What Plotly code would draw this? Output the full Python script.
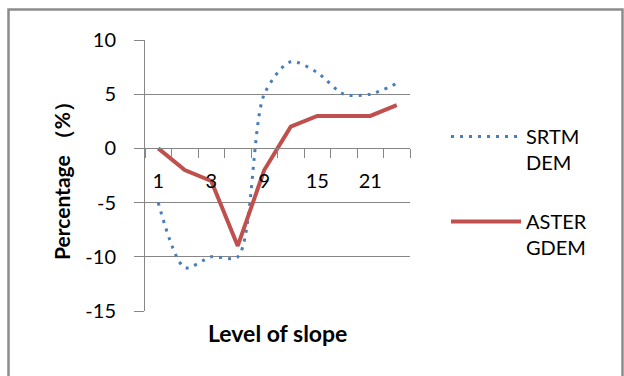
import plotly.graph_objects as go

slope_levels = ["1", "2", "3", "6", "9", "12", "15", "18", "21", "24"]
tick_labels = ["1", "", "3", "", "9", "", "15", "", "21", ""]
srtm_dem = [-5, -11, -10, -10, 5, 8, 7, 5, 5, 6]
aster_gdem = [0, -2, -3, -9, -2, 2, 3, 3, 3, 4]
y_ticks = [-15, -10, -5, 0, 5, 10]
y_tick_labels = ["-15", "-10", "-5", "0", "5", "10"]

FONT = "Lato, Carlito, Calibri, 'Noto Sans', sans-serif"
GRID = "#868686"

fig = go.Figure()
fig.add_trace(go.Scatter(
    x=slope_levels, y=srtm_dem, mode="lines", name="SRTM<br>DEM", legendgroup="a",
    line=dict(color="#4A7EBB", width=3, dash="3px,6px", shape="spline", smoothing=0.8),
))
fig.add_trace(go.Scatter(
    x=slope_levels, y=aster_gdem, mode="lines", name="ASTER<br>GDEM", legendgroup="b",
    line=dict(color="#C0504D", width=4),
))

L, R, T, B = 145, 214, 40, 65
W, H = 624, 376
pw, ph = W - L - R, H - T - B

fig.update_layout(
    width=W, height=H,
    margin=dict(l=L, r=R, t=T, b=B),
    paper_bgcolor="white", plot_bgcolor="white",
    font=dict(family=FONT, size=19, color="#000000"),
    showlegend=True,
    legend=dict(x=(446 - L) / pw, y=(311 - 117) / ph, xanchor="left", yanchor="top",
                font=dict(size=20), valign="top", itemwidth=70, tracegroupgap=30,
                bgcolor="rgba(0,0,0,0)"),
    xaxis=dict(
        type="category", range=[-0.5, 9.5], tickvals=slope_levels, ticktext=tick_labels,
        tickangle=0, tickson="boundaries", ticks="outside", ticklen=9, tickcolor=GRID,
        showline=True, linecolor=GRID, linewidth=1, showgrid=False,
        anchor="free", position=0.6, zeroline=False,
        tickfont=dict(size=20), ticklabelstandoff=15,
    ),
    yaxis=dict(
        range=[-15, 10], tickvals=y_ticks, ticktext=y_tick_labels,
        ticks="outside", ticklen=10, tickcolor=GRID,
        showline=True, linecolor=GRID, linewidth=1,
        showgrid=True, gridcolor=GRID, gridwidth=1, zeroline=False,
        tickfont=dict(size=20), ticklabelstandoff=14,
        title=dict(text="<b>Percentage （%）</b>", font=dict(size=21), standoff=9),
    ),
)

fig.add_annotation(
    text="<b>Level of slope</b>", xref="paper", yref="paper",
    x=(277 - L) / pw, y=(311 - 333) / ph, xanchor="center", yanchor="middle",
    showarrow=False, font=dict(size=23),
)

fig.add_shape(
    type="rect", xref="paper", yref="paper",
    x0=(8.5 - L) / pw, x1=(622.5 - L) / pw, y0=(311 - 390) / ph, y1=(311 - 9.5) / ph,
    line=dict(color="#8C8C8C", width=2.5), layer="below",
)

fig.write_html("out.html")
